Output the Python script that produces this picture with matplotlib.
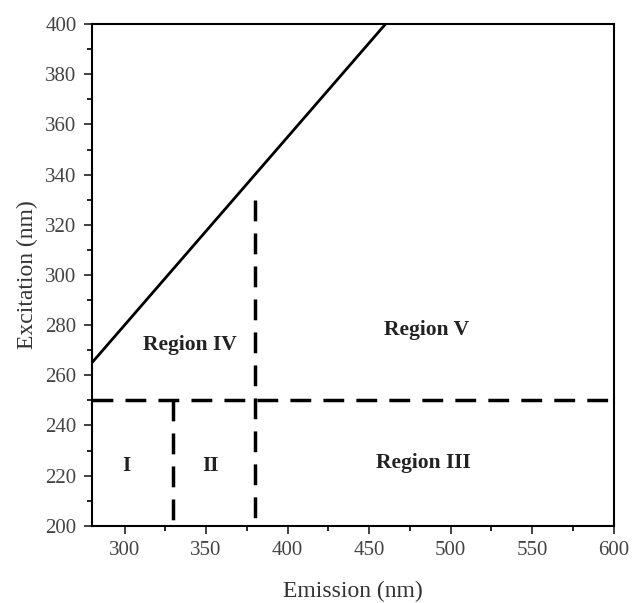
import matplotlib

matplotlib.use("Agg")
import matplotlib.pyplot as plt
from matplotlib.ticker import MultipleLocator

# diagonal boundary (Rayleigh-like line)
line_x = [280, 460]
line_y = [265, 400]

# dashed region boundaries
h_cut = 250
h_range = [280, 600]
v_cuts = [330, 380]
v_tops = [250, 330]

# region labels: (x, y, text)
label_x = [340, 485, 483, 301, 353]
label_y = [272, 278, 225, 224, 224]
label_txt = ["Region IV", "Region V", "Region III", "I", "II"]

plt.rcParams["font.family"] = ["Liberation Serif", "DejaVu Serif"]

fig = plt.figure(figsize=(6.34, 6.03), dpi=100)
ax = fig.add_axes([0.145, 0.128, 0.823, 0.832])

ax.plot(line_x, line_y, color="black", lw=2.0, solid_capstyle="butt")
ax.plot(h_range, [h_cut, h_cut], color="black", lw=2.5, dashes=(6, 3.5))
for xc, top in zip(v_cuts, v_tops):
    # draw from top down so the dash pattern starts at the top end
    ax.plot([xc, xc], [top, 200], color="black", lw=2.5, dashes=(6, 3.5))

for x, y, t in zip(label_x, label_y, label_txt):
    ax.text(x, y, t, ha="center", va="center", fontsize=15.5, fontweight="bold", color="#222222")

ax.set_xlim(280, 600)
ax.set_ylim(200, 400)
ax.xaxis.set_major_locator(MultipleLocator(50))
ax.xaxis.set_minor_locator(MultipleLocator(25))
ax.yaxis.set_major_locator(MultipleLocator(20))
ax.yaxis.set_minor_locator(MultipleLocator(10))
ax.tick_params(which="major", direction="out", length=6, width=1.3, labelsize=15,
               colors="#333333", labelcolor="#444444", pad=5)
ax.tick_params(which="minor", direction="out", length=3.5, width=1.2)
for s in ax.spines.values():
    s.set_linewidth(1.5)

ax.set_xlabel("Emission (nm)", fontsize=17, color="#333333", labelpad=15)
ax.set_ylabel("Excitation (nm)", fontsize=17, color="#333333", labelpad=5)

fig.savefig("out.png", dpi=100, facecolor="white")
